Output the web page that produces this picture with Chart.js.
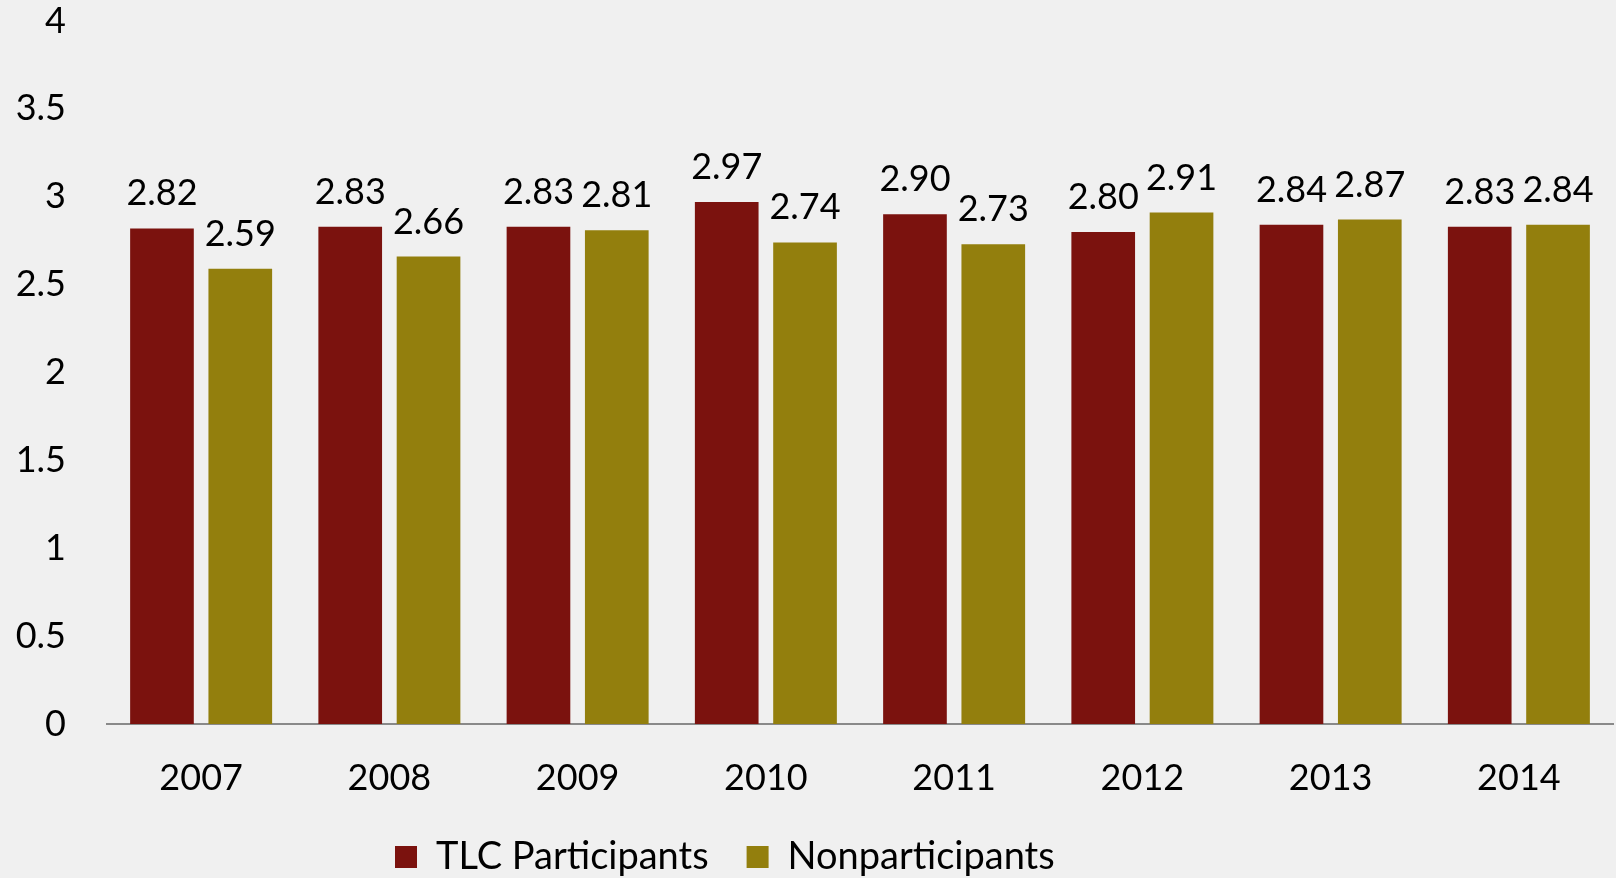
<!DOCTYPE html>
<html>
<head>
<meta charset="utf-8">
<script src="https://cdn.jsdelivr.net/npm/chart.js@4/dist/chart.umd.min.js"></script>
<style>
  html, body { margin: 0; padding: 0; background: #f0f0f0; }
  #wrap { width: 1616px; height: 878px; }
</style>
</head>
<body>
<div id="wrap"><canvas id="mychart" width="1616" height="878"></canvas></div>
<script>
// years on the x axis
var years = ["2007", "2008", "2009", "2010", "2011", "2012", "2013", "2014"]
// average values per group
var tlcValues = [2.82, 2.83, 2.83, 2.97, 2.90, 2.80, 2.84, 2.83]
var nonValues = [2.59, 2.66, 2.81, 2.74, 2.73, 2.91, 2.87, 2.84]
var yTicks = [0, 0.5, 1, 1.5, 2, 2.5, 3, 3.5, 4]

var FONT = "Lato"

// writes the value above each bar
var valueLabels = {
    id: "valueLabels",
    afterDatasetsDraw: function(chart) {
        var ctx = chart.ctx
        ctx.save()
        ctx.font = "36px " + FONT
        ctx.fillStyle = "#000"
        ctx.textAlign = "center"
        ctx.textBaseline = "alphabetic"
        chart.data.datasets.forEach(function(ds, i) {
            chart.getDatasetMeta(i).data.forEach(function(bar, j) {
                ctx.fillText(ds.data[j].toFixed(2), bar.x, bar.y - 23)
            })
        })
        ctx.restore()
    }
}

// legend sits a bit left of centre
var legendShift = {
    id: "legendShift",
    afterLayout: function(chart) {
        chart.legend.left = 357
    }
}

var mychart = document.getElementById("mychart").getContext("2d")
var chart = new Chart(mychart, {
    type: "bar",
    data: {
        labels: years,
        datasets: [
            {
                label: "TLC Participants",
                data: tlcValues,
                backgroundColor: "#7b120e",
                categoryPercentage: 0.832,
                barPercentage: 0.813
            },
            {
                label: "Nonparticipants",
                data: nonValues,
                backgroundColor: "#937f0d",
                categoryPercentage: 0.832,
                barPercentage: 0.813
            }
        ]
    },
    options: {
        responsive: false,
        animation: false,
        layout: { padding: { top: 21, right: 3, left: 0, bottom: -8 } },
        plugins: {
            legend: {
                position: "bottom",
                align: "start",
                labels: {
                    font: { family: FONT, size: 38 },
                    color: "#000",
                    boxWidth: 22,
                    boxHeight: 22,
                    padding: 38
                }
            },
            tooltip: { enabled: false }
        },
        scales: {
            x: {
                afterFit: function(scale) { scale.height = 76 },
                grid: { display: false, drawTicks: false },
                border: { display: true, color: "#898989", width: 2 },
                ticks: { font: { family: FONT, size: 36 }, color: "#000", padding: 33 }
            },
            y: {
                min: 0,
                max: 4,
                afterBuildTicks: function(scale) {
                    scale.ticks = yTicks.map(function(v) { return { value: v } })
                },
                afterFit: function(scale) {
                    scale.width = 107
                    scale.paddingTop = 20
                    scale.paddingBottom = 20
                },
                grid: { display: false, drawTicks: false },
                border: { display: false },
                ticks: {
                    font: { family: FONT, size: 36 },
                    color: "#000",
                    padding: 41,
                    callback: function(v) { return String(v) }
                }
            }
        }
    },
    plugins: [valueLabels, legendShift]
})
</script>
</body>
</html>
